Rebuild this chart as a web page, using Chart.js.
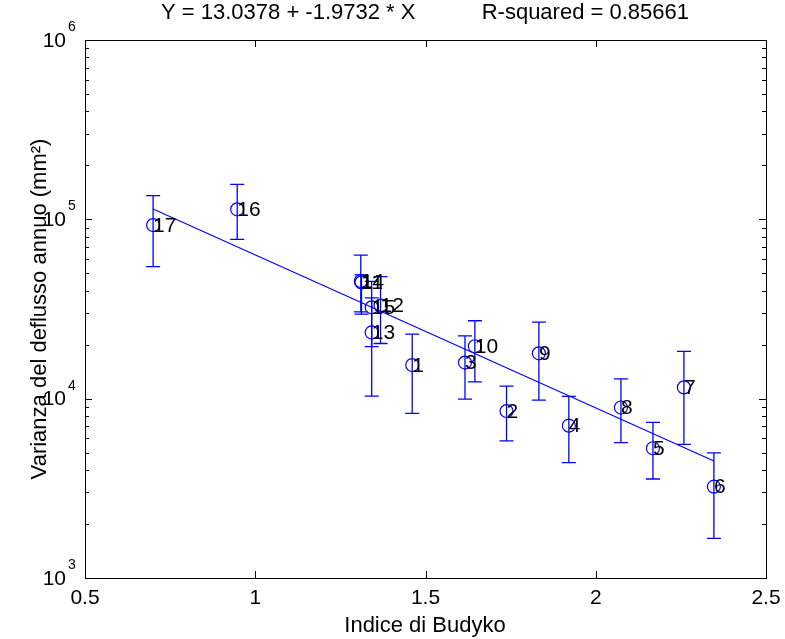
<!DOCTYPE html>
<html>
<head>
<meta charset="utf-8">
<script src="https://cdn.jsdelivr.net/npm/chart.js@4"></script>
<style>
  html, body { margin: 0; padding: 0; background: #fff; }
  #wrap { width: 785px; height: 639px; }
</style>
</head>
<body>
<div id="wrap"><canvas id="budykoChart" width="785" height="639"></canvas></div>
<script>
// station ids, Budyko index and runoff variance (mm^2) with error limits
const stationIds = ["1","2","3","4","5","6","7","8","9","10","11","12","13","14","15","16","17"];
const budyko   = [1.461, 1.738, 1.616, 1.921, 2.168, 2.347, 2.259, 2.074, 1.833, 1.645, 1.312, 1.368, 1.342, 1.310, 1.342, 0.947, 0.700];
const varianza = [15400, 8530, 15900, 7070, 5290, 3230, 11560, 8930, 17900, 19600, 44500, 33000, 23400, 45300, 32300, 113700, 92900];
const varLow   = [8280, 5820, 9950, 4400, 3565, 1664, 5560, 5680, 9820, 12400, 29600, 20300, 10340, 30500, 19500, 77300, 54500];
const varHigh  = [22900, 11750, 22400, 10300, 7380, 4990, 18370, 12900, 26700, 27200, 49000, 47900, 36500, 63200, 45100, 156700, 135600];

// fitted line end points
const fitX = [0.700, 2.347];
const fitY = [114200, 4490];

const xTicks = [0.5, 1, 1.5, 2, 2.5];
const yDecades = [3, 4, 5, 6];

const titleLeft = "Y = 13.0378 + -1.9732 * X";
const titleRight = "R-squared = 0.85661";
const xTitle = "Indice di Budyko";
const yTitle = "Varianza del deflusso annuo (mm²)";

const BLUE = "#0000ff";
const FONT = "'Liberation Sans', Arial, sans-serif";

const matlabAxes = {
  id: "matlabAxes",
  afterDatasetsDraw(chart) {
    const { ctx, chartArea: a, scales } = chart;
    const xs = scales.x, ys = scales.y;
    ctx.save();

    // error bars
    ctx.strokeStyle = BLUE;
    ctx.lineWidth = 1.3;
    budyko.forEach((bx, i) => {
      const px = xs.getPixelForValue(bx);
      const pLo = ys.getPixelForValue(varLow[i]);
      const pHi = ys.getPixelForValue(varHigh[i]);
      ctx.beginPath();
      ctx.moveTo(px, pLo); ctx.lineTo(px, pHi);
      ctx.moveTo(px - 7, pLo); ctx.lineTo(px + 7, pLo);
      ctx.moveTo(px - 7, pHi); ctx.lineTo(px + 7, pHi);
      ctx.stroke();
    });

    // point labels
    ctx.fillStyle = "#000";
    ctx.font = "21px " + FONT;
    ctx.textAlign = "left";
    ctx.textBaseline = "middle";
    budyko.forEach((bx, i) => {
      ctx.fillText(stationIds[i], xs.getPixelForValue(bx), ys.getPixelForValue(varianza[i]) + 1);
    });

    // box
    ctx.strokeStyle = "#000";
    ctx.lineWidth = 1;
    ctx.strokeRect(Math.round(a.left) + 0.5, Math.round(a.top) + 0.5,
                   Math.round(a.right - a.left), Math.round(a.bottom - a.top));

    // x ticks (inward, top and bottom)
    ctx.beginPath();
    xTicks.forEach(v => {
      const px = Math.round(xs.getPixelForValue(v)) + 0.5;
      ctx.moveTo(px, a.bottom); ctx.lineTo(px, a.bottom - 7);
      ctx.moveTo(px, a.top); ctx.lineTo(px, a.top + 7);
    });
    // y ticks, major and minor
    yDecades.forEach((d, k) => {
      for (let m = 1; m <= 9; m++) {
        if (k === yDecades.length - 1 && m > 1) break;
        const py = Math.round(ys.getPixelForValue(m * Math.pow(10, d))) + 0.5;
        const len = m === 1 ? 7 : 4;
        ctx.moveTo(a.left, py); ctx.lineTo(a.left + len, py);
        ctx.moveTo(a.right, py); ctx.lineTo(a.right - len, py);
      }
    });
    ctx.stroke();

    // x tick labels
    ctx.font = "21px " + FONT;
    ctx.textAlign = "center";
    ctx.textBaseline = "middle";
    xTicks.forEach(v => ctx.fillText(String(v), xs.getPixelForValue(v), a.bottom + 20));

    // y tick labels 10^n
    yDecades.forEach(d => {
      const py = ys.getPixelForValue(Math.pow(10, d));
      ctx.font = "21px " + FONT;
      ctx.textAlign = "right";
      ctx.fillText("10", a.left - 19, py + 1);
      ctx.font = "14px " + FONT;
      ctx.textAlign = "left";
      ctx.fillText(String(d), a.left - 17, py - 13);
    });

    // titles
    ctx.font = "22px " + FONT;
    ctx.textAlign = "left";
    ctx.fillText(titleLeft, 161, 13);
    ctx.textAlign = "right";
    ctx.fillText(titleRight, 689, 13);
    ctx.textAlign = "center";
    ctx.fillText(xTitle, 425, 626);
    ctx.translate(40, 309);
    ctx.rotate(-Math.PI / 2);
    ctx.fillText(yTitle, 0, 0);
    ctx.restore();
  }
};

const ctx = document.getElementById("budykoChart").getContext("2d");
new Chart(ctx, {
  type: "scatter",
  data: {
    datasets: [
      {
        label: "stazioni",
        data: budyko.map((x, i) => ({ x: x, y: varianza[i] })),
        pointStyle: "circle",
        pointRadius: 6.5,
        pointBorderColor: BLUE,
        pointBackgroundColor: "rgba(0,0,0,0)",
        pointBorderWidth: 1.2
      },
      {
        label: "regressione",
        type: "line",
        data: fitX.map((x, i) => ({ x: x, y: fitY[i] })),
        borderColor: BLUE,
        borderWidth: 1.2,
        pointRadius: 0,
        fill: false
      }
    ]
  },
  options: {
    responsive: false,
    animation: false,
    events: [],
    layout: { padding: { left: 85, right: 19, top: 40, bottom: 61 } },
    plugins: { legend: { display: false }, tooltip: { enabled: false } },
    scales: {
      x: { type: "linear", min: 0.5, max: 2.5, display: false },
      y: { type: "logarithmic", min: 1000, max: 1000000, display: false }
    }
  },
  plugins: [matlabAxes]
});
</script>
</body>
</html>
